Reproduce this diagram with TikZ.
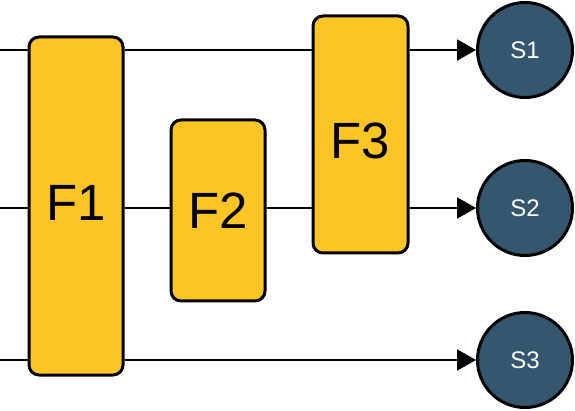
\documentclass[tikz,border=0pt]{standalone}
\usepackage{fontspec}
\setmainfont{Liberation Sans}
\usepackage{tikz}
\usetikzlibrary{arrows.meta, positioning}
\definecolor{funcyellow}{RGB}{253,196,37}
\definecolor{sinkblue}{RGB}{52,86,110}
\tikzstyle{func} = [rectangle, rounded corners=10pt, line width=3pt, draw=black, fill=funcyellow, inner sep=0pt, font=\fontsize{51}{51}\selectfont]
\tikzstyle{sink} = [circle, line width=3pt, draw=black, fill=sinkblue, text=white, minimum size=95pt, inner sep=0pt, font=\fontsize{24}{24}\selectfont]
\tikzstyle{wire} = [line width=2pt]
\tikzstyle{arrow} = [wire, -{Triangle[length=19pt,width=21pt]}]

\begin{document}
\begin{tikzpicture}[x=1pt, y=-1pt]
		\useasboundingbox (0,0) rectangle (575,411);
		\node (F1) [func, minimum width=94pt, minimum height=338pt] at (76,206) {\raisebox{0pt}[\height][6pt]{F1}};
		\node (F2) [func, minimum width=94pt, minimum height=181pt] at (218,210.5) {F2};
		\node (F3) [func, minimum width=95pt, minimum height=237pt] at (360.5,134.5) {\raisebox{0pt}[\dimexpr\height+12pt\relax][0pt]{F3}};
		\node (S1) [sink] at (525,50) {S1};
		\node (S2) [sink] at (525,208) {S2};
		\node (S3) [sink] at (525,360) {S3};
		
		\coordinate (In1) at (0,50);
		\coordinate (In2) at (0,208);
		\coordinate (In3) at (0,360);
		
		\draw [wire] (In1) -- (In1 -| F1.west);
		\draw [wire] (F1.east |- In1) -- (F3.west |- In1);
		\draw [arrow] (F3.east |- In1) -- (S1);
		
		\draw [wire] (In2) -- (In2 -| F1.west);
		\draw [wire] (F1.east |- In2) -- (F2.west |- In2);
		\draw [wire] (F2.east |- In2) -- (F3.west |- In2);
		\draw [arrow] (F3.east |- In2) -- (S2);
		
		\draw [wire] (In3) -- (In3 -| F1.west);
		\draw [arrow] (F1.east |- In3) -- (S3);
\end{tikzpicture}
\end{document}
